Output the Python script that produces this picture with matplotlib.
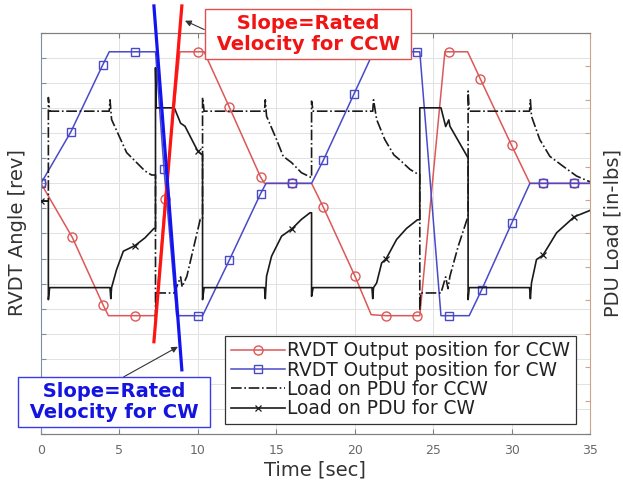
import matplotlib
matplotlib.use("Agg")
import matplotlib.pyplot as plt

# RVDT output position [rev] (left axis), CCW test
ccw_pos_t = [0, 2, 3.95, 4.3, 6, 7.3, 7.9, 8.85, 10, 10.4, 12, 14, 14.25, 16, 17.25,
             18, 20, 21.05, 22, 24, 24.15, 25.75, 26, 27.2, 28, 30, 31.17, 32, 34, 35]
ccw_pos = [0, -2.16, -4.84, -5.28, -5.28, -5.28, -0.64, 5.25, 5.25, 5.25, 3.05, 0.25, 0, 0, 0,
           -0.95, -3.68, -5.24, -5.28, -5.28, -5.28, 5.25, 5.25, 5.25, 4.18, 1.52, 0, 0, 0, 0]
ccw_pos_marks = [0, 2, 3.95, 6, 7.9, 10, 12, 14, 16, 18, 20, 22, 24, 26, 28, 30, 32, 34]

# RVDT output position [rev] (left axis), CW test
cw_pos_t = [0, 1.9, 3.93, 4.35, 6, 7.3, 7.84, 8.65, 10, 10.3, 12, 14, 14.35, 16, 17.25,
            18, 19.95, 21.2, 22, 24, 24.15, 25.5, 26, 27.3, 28.1, 30, 31.17, 32, 34, 35]
cw_pos = [0, 2.05, 4.72, 5.25, 5.25, 5.25, 0.59, -5.28, -5.28, -5.28, -3.07, -0.41, 0, 0, 0,
          0.92, 3.56, 5.25, 5.25, 5.25, 5.25, -5.28, -5.28, -5.28, -4.24, -1.6, 0, 0, 0, 0]
cw_pos_marks = [0, 1.9, 3.93, 6, 7.84, 10, 12, 14, 16, 18, 19.95, 22, 24, 26, 28.1, 30, 32, 34]

# load on PDU [in-lbs] (right axis), CCW test
ccw_load_t = [0, 0.47, 0.47, 0.55, 4.35, 4.4, 4.5, 5.46, 6.1, 6.63, 7.05, 7.3, 7.3, 7.35, 8.5,
              8.9, 9.0, 9.3, 9.7, 10.15, 10.3, 10.3, 10.4, 14.25, 14.3, 14.38, 15.02, 15.44,
              15.98, 16.6, 17.25, 17.25, 17.35, 21.15, 21.2, 21.4, 21.92, 22.5, 22.88, 23.52,
              24.05, 24.15, 24.15, 24.2, 25.5, 25.8, 25.95, 26.07, 26.6, 27.23, 27.23, 27.3,
              31.15, 31.2, 31.27, 31.8, 32.44, 33.29, 34.14, 34.88, 35]
ccw_load = [0.97, 0.97, 4.07, 3.66, 3.66, 4.0, 3.41, 2.42, 2.12, 1.87, 1.75, 1.75, -2.57, -1.78,
            -1.78, -1.3, -1.6, -1.28, -0.48, 0.42, 0.42, 4.07, 3.66, 3.66, 4.0, 3.51, 2.81, 2.31,
            2.12, 1.82, 1.67, 3.96, 3.66, 3.66, 4.0, 3.41, 2.81, 2.35, 2.2, 1.92,
            1.77, 1.77, -2.3, -1.78, -1.78, -1.3, -1.65, -1.28, -0.38, 0.52, 4.26, 3.66,
            3.66, 4.0, 3.51, 2.81, 2.31, 2.01, 1.72, 1.57, 1.55]

# load on PDU [in-lbs] (right axis), CW test
cw_load_t = [0, 0.47, 0.47, 0.55, 4.4, 4.45, 4.5, 4.82, 5.25, 6, 6.63, 7.2, 7.3, 7.3, 7.35,
             8.5, 8.9, 9.18, 10, 10.24, 10.3, 10.3, 10.4, 14.25, 14.3, 14.38, 14.7, 15.34,
             16, 16.6, 17.15, 17.25, 17.25, 17.35, 21.1, 21.15, 21.2, 21.4, 21.72, 22, 22.67,
             23.3, 24, 24.15, 24.15, 25.5, 25.8, 26, 26.07, 27.23, 27.23, 27.3, 31.15, 31.2,
             31.27, 31.59, 32, 32.87, 34, 34.9, 35]
cw_load = [0.97, 0.97, -1.98, -1.62, -1.62, -1.95, -1.62, -1.08, -0.53, -0.36, -0.13,
           0.15, 0.15, 4.96, 3.76, 3.76, 3.3, 3.21, 2.46, 2.37, 2.37, -1.98, -1.62,
           -1.62, -1.95, -1.28, -0.68, -0.08, 0.14, 0.42, 0.62, 0.62, -1.88, -1.62,
           -1.62, -1.95, -1.62, -1.48, -0.88, -0.76, -0.18, 0.15, 0.41, 0.41, 3.76,
           3.76, 3.2, 3.4, 3.21, 2.26, -1.98, -1.62, -1.62, -1.95, -1.48, -0.78,
           -0.65, 0.02, 0.5, 0.67, 0.69]
cw_load_marks = [0, 6, 10, 16, 22, 32, 34]

# hand drawn slope lines (left axis units)
ccw_slope_t = [7.2, 8.98]
ccw_slope = [-6.32, 7.08]
cw_slope_t = [7.2, 8.98]
cw_slope = [7.08, -7.44]

xticks = [0, 5, 10, 15, 20, 25, 30, 35]


def marks(ts, keep):
    return [i for i, t in enumerate(ts) if t in keep]


fig = plt.figure(figsize=(6.23, 4.88), dpi=100)
ax = fig.add_axes([0.0658, 0.1107, 0.8812, 0.8217])
ax2 = ax.twinx()

red = '#dc5858'
blue = '#4a4ac8'

l1, = ax.plot(ccw_pos_t, ccw_pos, color=red, lw=1.1, marker='o', ms=6.5, mfc='none',
              mec=red, mew=1.0, markevery=marks(ccw_pos_t, ccw_pos_marks))
l2, = ax.plot(cw_pos_t, cw_pos, color=blue, lw=1.1, marker='s', ms=5.5, mfc='none',
              mec=blue, mew=1.0, markevery=marks(cw_pos_t, cw_pos_marks))
l3, = ax2.plot(ccw_load_t, ccw_load, color='#1a1a1a', lw=1.2, ls='-.')
l4, = ax2.plot(cw_load_t, cw_load, color='#1a1a1a', lw=1.2, marker='x', ms=4.5, mew=0.9,
               markevery=marks(cw_load_t, cw_load_marks))

ax.set_xlim(0, 35)
ax.set_ylim(-10, 6)
ax2.set_ylim(-6, 6)
ax.set_xticks(xticks)
ax.set_yticks(range(-10, 7))
ax2.set_yticks(range(-6, 7))
ax.set_yticklabels([])
ax2.set_yticklabels([])
ax.grid(True, color='#e2e2e2', lw=0.7)

left_c = '#7d8fa3'
right_c = '#c9a48c'
for a in (ax, ax2):
    for s in ('top', 'bottom'):
        a.spines[s].set_color('#808080')
ax.spines['left'].set_color(left_c)
ax.spines['right'].set_visible(False)
ax2.spines['right'].set_color(right_c)
ax2.spines['left'].set_visible(False)
ax.tick_params(axis='x', direction='in', top=True, length=3.5, color='#808080',
               labelcolor='#6a6a6a', labelsize=9, pad=7)
ax.tick_params(axis='y', direction='in', length=3.5, color=left_c)
ax2.tick_params(axis='y', direction='in', length=3.5, color=right_c)

fig.text(315 / 623, 1 - 470 / 488, 'Time [sec]', ha='center', va='center',
         fontsize=14, color='#333333')
fig.text(18 / 623, 1 - 233 / 488, 'RVDT Angle [rev]', ha='center', va='center',
         rotation=90, fontsize=14, color='#333333')
fig.text(613 / 623, 1 - 233 / 488, 'PDU Load [in-lbs]', ha='center', va='center',
         rotation=90, fontsize=14, color='#333333')

leg = ax2.legend([l1, l2, l3, l4],
                 ['RVDT Output position for CCW', 'RVDT Output position for CW',
                  'Load on PDU for CCW', 'Load on PDU for CW'],
                 loc='lower right', bbox_to_anchor=(0.9745, 0.025), borderaxespad=0,
                 fontsize=13.4, labelspacing=0.02, handlelength=2.9, handletextpad=0.15,
                 borderpad=0.3, fancybox=False, framealpha=1, edgecolor='#333333')
leg.get_frame().set_linewidth(0.9)
for t in leg.get_texts():
    t.set_color('#222222')

# slope lines drawn over the plot, running past the frame
ax2.plot(ccw_slope_t, ccw_slope, color='#ff1414', lw=2.3, clip_on=False,
         transform=ax.transData, zorder=8)
ax2.plot(cw_slope_t, cw_slope, color='#1414f0', lw=2.3, clip_on=False,
         transform=ax.transData, zorder=8)

ax2.annotate(' Slope=Rated \n Velocity for CCW ', xy=(9.18, 6.49), xycoords=ax.transData,
             xytext=(308, 488 - 34), textcoords='figure pixels', ha='center', va='center',
             color='#f01414', fontsize=14, fontweight='bold', linespacing=1.1,
             bbox=dict(boxstyle='square,pad=0.25', fc='white', ec='#e05050', lw=1.0),
             arrowprops=dict(arrowstyle='-|>', color='#333333', lw=0.8, relpos=(0, 0.55),
                             mutation_scale=9, shrinkA=0, shrinkB=0),
             annotation_clip=False, zorder=10)
ax2.annotate(' Slope=Rated \n Velocity for CW ', xy=(8.73, -6.52), xycoords=ax.transData,
             xytext=(114, 488 - 402), textcoords='figure pixels', ha='center', va='center',
             color='#1414e0', fontsize=14, fontweight='bold', linespacing=1.1,
             bbox=dict(boxstyle='square,pad=0.25', fc='white', ec='#3a3ae8', lw=1.0),
             arrowprops=dict(arrowstyle='-|>', color='#333333', lw=0.8, relpos=(0.5, 1),
                             mutation_scale=9, shrinkA=0, shrinkB=0),
             annotation_clip=False, zorder=10)

fig.savefig('out.png', dpi=100)
